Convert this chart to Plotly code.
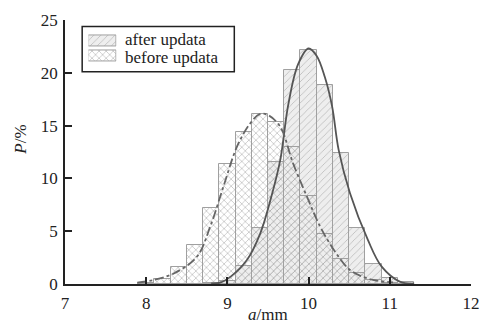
import plotly.graph_objects as go

# Histogram bins (centres, mm) and frequencies (%)
bin_centers = [8.0, 8.2, 8.4, 8.6, 8.8, 9.0, 9.2, 9.4, 9.6, 9.8, 10.0, 10.2, 10.4, 10.6, 10.8, 11.0, 11.2]
after_vals  = [0.0, 0.0, 0.0, 0.0, 0.1, 0.3, 1.7, 5.3, 11.6, 20.3, 22.2, 18.8, 12.4, 5.3, 1.9, 0.6, 0.2]
before_vals = [0.1, 0.5, 1.6, 3.7, 7.2, 11.4, 14.4, 16.1, 15.3, 13.0, 8.3, 4.7, 2.4, 1.0, 0.4, 0.1, 0.0]

# Fitted curves
after_curve_x = [8.8, 8.91, 9.04, 9.24, 9.405, 9.53, 9.65, 9.75, 9.87, 10.0, 10.1, 10.2, 10.29, 10.37, 10.51, 10.73, 10.9, 11.13, 11.3]
after_curve_y = [0.05, 0.12, 0.7, 2.27, 4.8, 7.95, 11.7, 17.0, 20.8, 22.3, 21.6, 19.6, 16.8, 12.7, 8.6, 4.17, 1.64, 0.2, 0.05]
before_curve_x = [7.89, 8.09, 8.34, 8.626, 8.79, 8.95, 9.118, 9.28, 9.4, 9.5, 9.65, 9.81, 9.98, 10.14, 10.31, 10.51, 10.76, 11.04]
before_curve_y = [0.13, 0.38, 1.0, 2.6, 5.47, 9.2, 13.0, 15.2, 16.1, 16.0, 14.9, 11.4, 8.27, 5.47, 3.25, 1.33, 0.45, 0.16]

x_ticks = [7, 8, 9, 10, 11, 12]
y_ticks = [0, 5, 10, 15, 20, 25]
series_names = ["after updata", "before updata"]

FONT = "Liberation Serif"
TXT = "#222222"

after_marker = dict(color="#eeeeee", line=dict(color="#a0a0a0", width=1),
                    pattern=dict(shape="/", fgcolor="#b8b8b8", bgcolor="#eeeeee",
                                 size=5, solidity=0.15, fillmode="replace"))
before_marker = dict(color="rgba(255,255,255,0)", line=dict(color="#a0a0a0", width=1),
                     pattern=dict(shape="x", fgcolor="#a8a8a8", bgcolor="rgba(255,255,255,0)",
                                  size=5, solidity=0.2, fillmode="replace"))

fig = go.Figure()
fig.add_trace(go.Bar(x=bin_centers, y=after_vals, width=0.2, name=series_names[0],
                     marker=after_marker, showlegend=False))
fig.add_trace(go.Bar(x=bin_centers, y=before_vals, width=0.2, name=series_names[1],
                     marker=before_marker, showlegend=False))
fig.add_trace(go.Scatter(
    x=after_curve_x, y=after_curve_y, mode="lines", showlegend=False,
    line=dict(color="#555555", width=1.8, shape="spline", smoothing=1.0),
))
fig.add_trace(go.Scatter(
    x=before_curve_x, y=before_curve_y, mode="lines", showlegend=False,
    line=dict(color="#666666", width=1.8, dash="dashdot", shape="spline", smoothing=1.0),
))

# Legend swatches drawn as bars on a small hidden axis pair
fig.add_trace(go.Bar(x=[1], y=[1], orientation="h", width=0.75, marker=after_marker,
                     xaxis="x2", yaxis="y2", showlegend=False, hoverinfo="skip"))
fig.add_trace(go.Bar(x=[1], y=[0], orientation="h", width=0.75, marker=before_marker,
                     xaxis="x2", yaxis="y2", showlegend=False, hoverinfo="skip"))

fig.update_layout(
    width=481, height=327,
    margin=dict(l=64.5, r=10, t=20, b=43),
    paper_bgcolor="white", plot_bgcolor="white",
    barmode="overlay", bargap=0,
    font=dict(family=FONT, size=17, color=TXT),
    showlegend=False,
    xaxis=dict(range=[7, 12], tickvals=x_ticks, ticks="inside", ticklen=7,
               tickwidth=1.5, tickcolor=TXT, showline=True, linecolor=TXT,
               linewidth=1.5, showgrid=False, zeroline=False,
               ticklabelstandoff=3, automargin=False),
    yaxis=dict(range=[0, 25], tickvals=y_ticks, ticks="inside", ticklen=7,
               tickwidth=1.5, tickcolor=TXT, showline=True, linecolor=TXT,
               linewidth=1.5, showgrid=False, zeroline=False,
               ticklabelstandoff=2, automargin=False),
    xaxis2=dict(domain=[0.0578, 0.1267], range=[0, 1], visible=False, anchor="y2",
                fixedrange=True),
    yaxis2=dict(domain=[0.837, 0.949], range=[-0.5, 1.5], visible=False, anchor="x2",
                fixedrange=True),
    shapes=[dict(type="rect", xref="paper", yref="paper", x0=0.0423, x1=0.417,
                 y0=0.804, y1=0.975, line=dict(color=TXT, width=1.5),
                 fillcolor="rgba(0,0,0,0)")],
    annotations=[
        dict(text=series_names[0], xref="paper", yref="paper", x=0.144, y=0.928,
             xanchor="left", yanchor="middle", showarrow=False,
             font=dict(family=FONT, size=17, color=TXT)),
        dict(text=series_names[1], xref="paper", yref="paper", x=0.144, y=0.858,
             xanchor="left", yanchor="middle", showarrow=False,
             font=dict(family=FONT, size=17, color=TXT)),
        dict(text="<i>a</i>/mm", xref="paper", yref="paper", x=0.5, y=-0.157,
             xanchor="center", yanchor="bottom", showarrow=False, borderpad=0,
             font=dict(family=FONT, size=17, color=TXT)),
        dict(text="<i>P</i>/%", xref="paper", yref="paper", x=-0.1095, y=0.545,
             xanchor="center", yanchor="middle", showarrow=False, textangle=-90,
             font=dict(family=FONT, size=17, color=TXT)),
    ],
)
fig.write_html("out.html")
